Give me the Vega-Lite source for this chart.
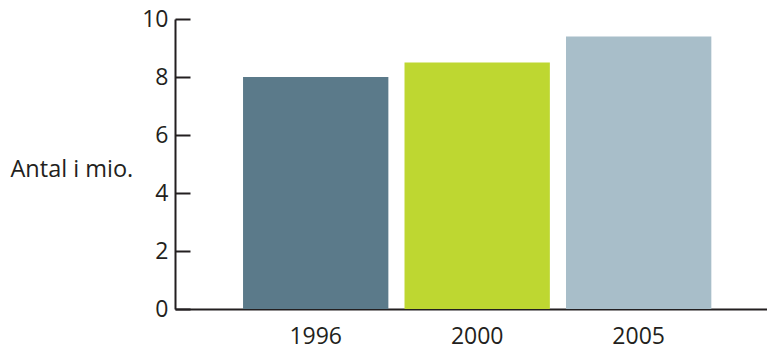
{
  "$schema": "https://vega.github.io/schema/vega-lite/v6.json",
  "width": 592,
  "height": 290,
  "autosize": "none",
  "padding": {"left": 175, "top": 19, "right": 0, "bottom": 40},
  "background": "white",
  "config": {
    "view": {"stroke": null},
    "font": "Open Sans"
  },
  "data": {
    "values": [
      {"year": "1996", "antal": 8.0},
      {"year": "2000", "antal": 8.5},
      {"year": "2005", "antal": 9.4}
    ]
  },
  "mark": {"type": "bar"},
  "encoding": {
    "x": {
      "field": "year",
      "type": "nominal",
      "sort": null,
      "scale": {"paddingInner": 0.1, "paddingOuter": 0.383, "align": 0.55},
      "axis": {
        "title": null,
        "labelAngle": 0,
        "ticks": false,
        "labelPadding": 16,
        "labelFontSize": 23,
        "labelColor": "#231f20",
        "labelFont": "Open Sans",
        "domainColor": "#231f20",
        "domainWidth": 2
      }
    },
    "y": {
      "field": "antal",
      "type": "quantitative",
      "scale": {"domain": [0, 10], "nice": false},
      "axis": {
        "values": [0, 2, 4, 6, 8, 10],
        "grid": false,
        "title": "Antal i mio.",
        "titleAngle": 0,
        "titleAlign": "left",
        "titleBaseline": "alphabetic",
        "titleX": -165,
        "titleY": 157,
        "titleFont": "Open Sans",
        "titleFontSize": 23.5,
        "titleFontWeight": "normal",
        "titleColor": "#231f20",
        "labelFontSize": 23,
        "labelColor": "#231f20",
        "labelFont": "Open Sans",
        "labelPadding": 22,
        "tickSize": -15,
        "tickWidth": 2,
        "tickColor": "#231f20",
        "domainColor": "#231f20",
        "domainWidth": 2
      }
    },
    "color": {
      "field": "year",
      "type": "nominal",
      "scale": {"domain": ["1996", "2000", "2005"], "range": ["#5b7a8a", "#bed731", "#a8bec9"]},
      "legend": null
    }
  }
}
